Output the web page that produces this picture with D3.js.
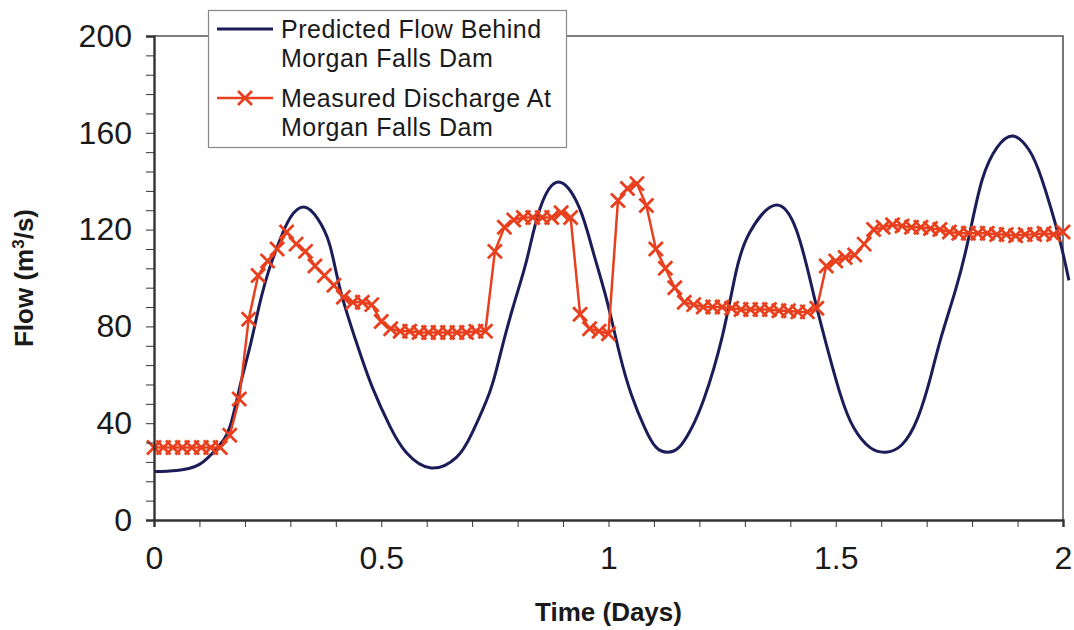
<!DOCTYPE html>
<meta charset="utf-8">
<style>
body { margin: 0; background: #fff; }
text { font-family: Arial, "Liberation Sans", sans-serif; fill: #1a1a1a; }
.axis path, .axis line { stroke: #333; }
.axis text { font-size: 32px; fill: #1a1a1a; }
.title { font-weight: bold; font-size: 26px; }
.legend text { font-size: 25px; }
</style>
<body>
<script src="https://cdn.jsdelivr.net/npm/d3@7"></script>
<script>

// predicted flow behind the dam: [day, m3/s]
var predictedDay = [0, 0.05, 0.10, 0.14, 0.167, 0.19, 0.211, 0.233, 0.255, 0.277, 0.30, 0.33, 0.36, 0.387, 0.41, 0.446, 0.48, 0.52, 0.556, 0.61, 0.666, 0.70, 0.738, 0.76, 0.79, 0.82, 0.848, 0.89, 0.936, 0.965, 0.996, 1.024, 1.05, 1.08, 1.105, 1.13, 1.155, 1.18, 1.21, 1.25, 1.28, 1.31, 1.365, 1.413, 1.449, 1.475, 1.51, 1.54, 1.575, 1.61, 1.645, 1.68, 1.71, 1.732, 1.765, 1.793, 1.822, 1.855, 1.89, 1.925, 1.954, 1.991, 2.013]
var predictedFlow = [20, 20.5, 23, 30, 38.5, 56, 71.5, 89.7, 104.5, 115.7, 125, 129.3, 124.5, 113.5, 95, 73, 55, 38.4, 27.7, 21.5, 26, 36, 52.5, 67, 88, 107.4, 128, 139.7, 129, 111.6, 91, 69, 52, 38, 30, 28, 30, 37, 50, 75.6, 102, 118.6, 130, 120, 95, 75.6, 52, 38, 30, 28, 31, 42, 60, 75.6, 96, 117, 140.5, 154, 158.7, 153, 140.5, 117, 99]

// measured discharge, one reading every half hour from day 0
var measuredStepDays = 1 / 48
var measuredFlow = [30, 30, 30, 30, 30, 30, 30, 30, 35, 50, 83, 101, 107, 112, 119, 114, 111, 105, 101, 97,
  92, 90, 90, 89, 82, 79, 78, 78, 77.5, 77.5, 77.5, 77.5, 77.5, 77.5, 78, 78,
  111, 121, 124, 125, 125, 125, 125, 127, 125, 85, 79, 78, 77, 132, 137, 139, 130, 112, 104,
  96, 90, 89, 88, 88, 88, 87.5, 87, 87, 87, 87, 86.5, 86.5, 86, 86, 87.5,
  105, 107, 108.5, 109.5, 114, 120, 121, 122, 121.5, 121, 121, 120.5, 120, 119, 118.5, 118.5, 118.5, 118.5,
  118, 118, 117.5, 118, 118, 118.5, 118, 119]

var yTicks = [0, 8, 16, 24, 32, 40, 48, 56, 64, 72, 80, 88, 96, 104, 112, 120, 128, 136, 144, 152, 160, 168, 176, 184, 192, 200]
var xTicks = [0, 0.1, 0.2, 0.3, 0.4, 0.5, 0.6, 0.7, 0.8, 0.9, 1, 1.1, 1.2, 1.3, 1.4, 1.5, 1.6, 1.7, 1.8, 1.9, 2]
var seriesNames = [["Predicted Flow Behind", "Morgan Falls Dam"], ["Measured Discharge At", "Morgan Falls Dam"]]

var blue = "#1b1c58", red = "#e8401e"

var width = 1074, height = 630
var margin = {top: 36, right: 11, bottom: 110, left: 154}
var w = width - margin.left - margin.right,
    h = height - margin.top - margin.bottom

var svg = d3.select("body").append("svg")
    .attr("width", width)
    .attr("height", height)

var g = svg.append("g").attr("transform", "translate(" + margin.left + "," + margin.top + ")")

var x = d3.scaleLinear().domain([0, 2]).range([0, w])
var y = d3.scaleLinear().domain([0, 200]).range([h, 0])

// frame top and right
g.append("path")
    .attr("d", "M0," + y(200) + "H" + x(2) + "V" + y(0))
    .attr("fill", "none")
    .attr("stroke", "#555")
    .attr("stroke-width", 1.6)

var predicted = predictedDay.map(function(d, i) { return {t: d, v: predictedFlow[i]} })
var measured = measuredFlow.map(function(v, i) { return {t: i * measuredStepDays, v: v} })

g.append("path")
    .datum(predicted)
    .attr("fill", "none")
    .attr("stroke", blue)
    .attr("stroke-width", 3)
    .attr("d", d3.line().x(d => x(d.t)).y(d => y(d.v)).curve(d3.curveNatural))

g.append("path")
    .datum(measured)
    .attr("fill", "none")
    .attr("stroke", red)
    .attr("stroke-width", 2.5)
    .attr("d", d3.line().x(d => x(d.t)).y(d => y(d.v)))

var cross = "M-7,-7L7,7M-7,7L7,-7"
g.selectAll(".mark")
    .data(measured)
  .enter().append("path")
    .attr("class", "mark")
    .attr("transform", d => "translate(" + x(d.t) + "," + y(d.v) + ")")
    .attr("d", cross)
    .attr("stroke", red)
    .attr("stroke-width", 2.8)

// axes
var yAxis = g.append("g").attr("class", "axis")
    .call(d3.axisLeft(y).tickValues(yTicks).tickSize(8).tickPadding(14)
      .tickFormat(d => d % 40 === 0 ? d : ""))
yAxis.select(".domain").attr("stroke-width", 2.4)

var xAxis = g.append("g").attr("class", "axis")
    .attr("transform", "translate(0," + h + ")")
    .call(d3.axisBottom(x).tickValues(xTicks).tickSize(7).tickPadding(19)
      .tickFormat(d => Math.abs(d * 2 - Math.round(d * 2)) < 1e-9 ? d3.format("")(+d.toFixed(1)) : ""))
xAxis.select(".domain").attr("stroke-width", 2.4)
xAxis.selectAll(".tick text").attr("dy", "0.71em")

// titles
svg.append("text").attr("class", "title")
    .attr("x", margin.left + w / 2).attr("y", 621)
    .attr("text-anchor", "middle")
    .text("Time (Days)")

var yt = svg.append("text").attr("class", "title")
    .attr("transform", "translate(33," + (margin.top + h / 2) + ") rotate(-90)")
    .attr("text-anchor", "middle")
yt.append("tspan").text("Flow (m")
yt.append("tspan").attr("dy", -9).attr("font-size", 17).text("3")
yt.append("tspan").attr("dy", 9).text("/s)")

// legend
var lg = svg.append("g").attr("class", "legend")
lg.append("rect")
    .attr("x", 208.5).attr("y", 10.5).attr("width", 358).attr("height", 137)
    .attr("fill", "#fff").attr("stroke", "#888").attr("stroke-width", 1.2)

var rows = [{c: blue, y: 29, mark: false}, {c: red, y: 98, mark: true}]
rows.forEach(function(r, i) {
  lg.append("line").attr("x1", 217).attr("x2", 273).attr("y1", r.y).attr("y2", r.y)
      .attr("stroke", r.c).attr("stroke-width", i === 0 ? 3 : 2.5)
  if (r.mark) lg.append("path").attr("transform", "translate(245," + r.y + ")")
      .attr("d", cross).attr("stroke", r.c).attr("stroke-width", 2.8)
  lg.append("text").attr("x", 281).attr("y", r.y + 9).attr("letter-spacing", 0.5).text(seriesNames[i][0])
  lg.append("text").attr("x", 281).attr("y", r.y + 38).attr("letter-spacing", 0.5).text(seriesNames[i][1])
})
</script>
